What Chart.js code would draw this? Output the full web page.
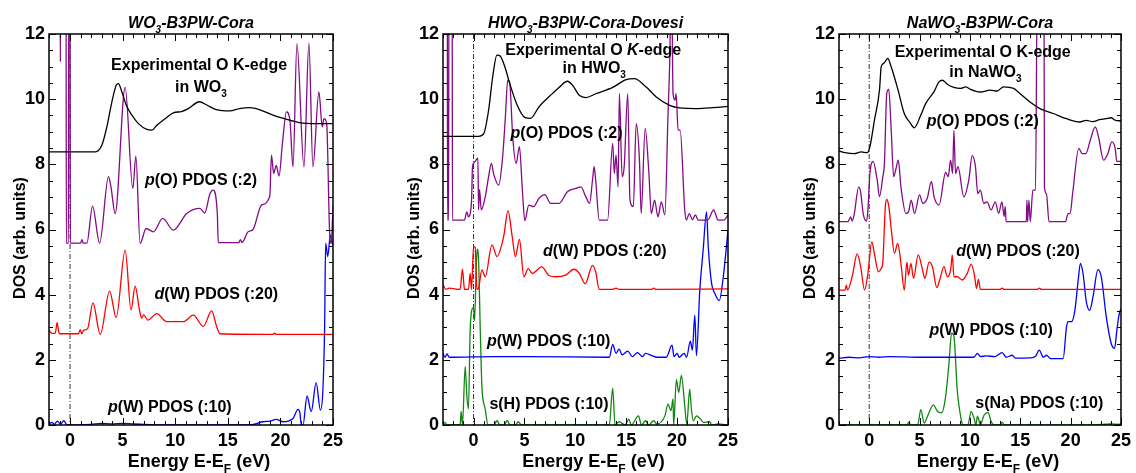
<!DOCTYPE html>
<html>
<head>
<meta charset="utf-8">
<script src="https://cdn.jsdelivr.net/npm/chart.js@4.4.1/dist/chart.umd.min.js"></script>
<style>
  html, body { margin: 0; padding: 0; background: #fff; }
  #wrap { position: relative; width: 1136px; height: 473px; overflow: hidden; }
  canvas { position: absolute; top: 0; }
</style>
</head>
<body>
<div id="wrap">
  <canvas id="c1" width="378" height="473" style="left:0px"></canvas>
  <canvas id="c2" width="376" height="473" style="left:380px"></canvas>
  <canvas id="c3" width="380" height="473" style="left:756px"></canvas>
</div>
<script>
// tick labels
const tickX = [0, 5, 10, 15, 20, 25];
const tickY = [0, 2, 4, 6, 8, 10, 12];

// ---- WO3 panel ----
const wo3ExpE = [-2, 2.4, 3.03, 3.5, 3.98, 4.39, 4.6, 4.93, 5.34, 5.88, 6.5, 7.3, 7.78, 8.25, 9.04, 9.82, 10.6, 11.2, 12.3, 13.0, 13.9, 15.2, 16.1, 17.1, 18.0, 19.3, 20.6, 21.8, 23.4, 25];
const wo3ExpV = [8.38, 8.38, 8.59, 9.15, 9.92, 10.43, 10.48, 10.22, 9.82, 9.51, 9.25, 9.07, 9.05, 9.2, 9.4, 9.58, 9.62, 9.7, 9.92, 9.82, 9.68, 9.64, 9.71, 9.74, 9.68, 9.51, 9.38, 9.28, 9.25, 9.25];

const wo3OpE = [-2, -0.95, -0.92, -0.89, -0.38, -0.35, -0.15, -0.12, 0.0, 0.03, 1.0, 1.13, 1.25, 1.6, 2.14, 2.81, 3.66, 3.88, 4.29, 5.24, 5.97, 6.26, 6.66, 7.23, 7.93, 8.81, 9.82, 11.09, 12.35, 12.8, 13.3, 13.6, 14.0, 14.09, 16.05, 16.2, 16.35, 16.93, 17.4, 18.2, 18.99, 19.15, 19.36, 19.6, 19.87, 20.19, 20.57, 20.9, 21.2, 21.57, 22.24, 22.71, 23.09, 23.66, 23.98, 24.14, 24.4, 24.67, 24.83, 25];
const wo3OpV = [14, 14, 11.15, 14, 14, 5.58, 5.58, 14, 14, 5.58, 5.58, 5.69, 5.58, 5.58, 6.72, 5.58, 7.62, 7.33, 6.49, 10.36, 7.26, 8.25, 5.57, 6.03, 5.93, 6.34, 5.98, 6.49, 6.65, 6.5, 7.1, 7.21, 6.5, 5.6, 5.6, 5.69, 5.6, 5.93, 6.0, 6.75, 7.03, 8.28, 7.72, 7.97, 7.64, 8.64, 9.61, 9.36, 7.92, 11.7, 7.92, 11.73, 7.92, 10.22, 9.15, 9.4, 9.25, 5.98, 5.57, 6.7];

const wo3DwE = [-2, -1.7, -1.4, -1.23, -1.05, -0.98, 0.8, 0.97, 1.1, 1.3, 1.67, 2.18, 2.87, 3.76, 4.39, 5.24, 5.8, 6.19, 6.6, 6.8, 7.0, 7.4, 8.25, 9.19, 10.77, 11.72, 12.67, 13.46, 13.93, 14.25, 19.3, 19.45, 19.6, 25];
const wo3DwV = [2.91, 2.81, 2.82, 3.14, 2.82, 2.8, 2.8, 2.93, 2.8, 2.91, 2.96, 3.75, 2.78, 4.11, 3.3, 5.37, 3.53, 4.26, 3.53, 3.28, 3.38, 3.22, 3.42, 3.17, 3.17, 3.37, 3.03, 3.5, 3.03, 2.8, 2.78, 2.82, 2.78, 2.78];

const wo3PwE = [-2, -1.7, -1.5, -1.2, -0.9, -0.6, -0.3, 0, 2, 3, 4, 5, 6, 7, 9, 17.0, 18.35, 19.0, 19.6, 20.25, 21.2, 21.67, 21.85, 21.99, 22.15, 22.53, 22.93, 23.4, 23.8, 24.2, 24.3, 24.5, 24.75, 25];
const wo3PwV = [0.02, 0.08, 0.02, 0.12, 0.03, 0.13, 0.01, 0.0, 0.02, 0.05, 0.03, 0.05, 0.03, 0.02, 0.0, 0.0, 0.1, 0.12, 0.17, 0.1, 0.2, 0.48, 0.38, 0.0, 0.0, 0.89, 0.41, 1.3, 0.46, 2.91, 5.58, 5.17, 5.83, 5.5];

// ---- HWO3 panel ----
const hwo3ExpE = [-3, 0.5, 1.0, 1.48, 1.88, 2.3, 2.6, 3.13, 3.46, 4.28, 5.04, 5.6, 6.42, 7.74, 8.4, 9.22, 9.72, 10.38, 11.04, 12.03, 13.67, 14.99, 15.8, 16.96, 17.95, 19.27, 20.26, 21.9, 23.55, 25];
const hwo3ExpV = [8.86, 8.86, 8.94, 9.66, 10.68, 11.35, 11.33, 10.94, 10.58, 9.82, 9.44, 9.41, 9.76, 10.17, 10.36, 10.55, 10.43, 10.12, 10.05, 10.17, 10.36, 10.6, 10.63, 10.37, 10.07, 9.81, 9.73, 9.71, 9.74, 9.78];

const hwo3OpE = [-3, -2.58, -2.55, -2.45, -2.42, -2.1, -2.07, -0.89, -0.66, -0.5, -0.2, -0.1, 0.0, 0.23, 0.43, 0.49, 0.59, 0.76, 1.15, 1.48, 1.75, 1.98, 2.47, 2.86, 3.13, 3.36, 3.56, 3.85, 4.18, 4.51, 4.78, 5.04, 5.43, 5.9, 6.42, 7.0, 7.57, 8.4, 9.22, 10.05, 10.54, 11.04, 11.4, 11.69, 11.85, 12.0, 12.35, 13.17, 13.67, 13.83, 14.0, 14.2, 14.33, 14.6, 14.8, 15.15, 15.37, 15.7, 15.98, 16.3, 16.47, 16.86, 17.23, 17.46, 17.79, 18.12, 18.45, 18.8, 19.1, 19.27, 19.45, 19.6, 19.8, 19.9, 20.1, 20.3, 20.75, 20.9, 21.2, 21.5, 21.8, 22.07, 23.0, 23.6, 23.8, 24.0, 24.6, 25];
const hwo3OpV = [14, 14, 6.29, 6.29, 14, 14, 6.29, 6.29, 6.54, 6.39, 6.85, 7.93, 8.03, 8.12, 8.2, 6.6, 7.23, 6.6, 7.0, 7.62, 8.03, 7.7, 7.36, 8.23, 9.46, 10.58, 10.48, 8.84, 8.03, 8.54, 7.31, 6.27, 6.75, 6.7, 6.95, 7.07, 6.8, 6.8, 7.16, 7.26, 7.31, 7.0, 6.8, 7.52, 7.93, 7.52, 6.29, 6.29, 8.64, 7.72, 8.28, 7.31, 10.17, 7.62, 7.93, 10.17, 6.9, 6.7, 9.25, 8.13, 6.49, 9.1, 7.72, 6.49, 6.9, 6.39, 6.85, 6.45, 9.46, 11.1, 14, 10.17, 9.97, 10.17, 9.05, 9.05, 6.6, 6.29, 6.49, 6.3, 6.45, 6.29, 6.29, 6.6, 6.45, 6.29, 6.29, 6.45];

const hwo3DwE = [-3, -2.7, -2.4, -1.32, -1.09, -0.89, -0.5, -0.33, -0.2, 0.0, 0.16, 0.33, 0.49, 0.82, 1.15, 1.81, 2.3, 2.96, 3.39, 3.79, 4.12, 4.51, 4.94, 5.37, 5.76, 6.69, 7.41, 8.07, 9.06, 9.88, 10.4, 10.97, 11.69, 12.0, 12.35, 13.6, 14.0, 14.3, 17.5, 17.7, 17.9, 25];
const hwo3DwV = [4.3, 4.16, 4.2, 4.16, 4.78, 4.16, 4.16, 4.65, 4.16, 5.47, 5.45, 4.16, 4.2, 4.76, 4.55, 5.53, 5.17, 5.78, 6.58, 5.8, 5.17, 5.7, 4.55, 4.8, 4.65, 4.85, 4.59, 4.55, 4.6, 4.78, 4.65, 4.34, 4.9, 4.7, 4.16, 4.16, 4.2, 4.16, 4.16, 4.2, 4.16, 4.18];

const hwo3PwE = [-3, -2.8, -2.6, -2.4, -2.2, 2, 5, 13.34, 13.67, 14.0, 14.3, 14.6, 15.15, 15.6, 16.1, 16.6, 16.9, 17.6, 18.0, 18.94, 19.5, 19.7, 20.0, 20.2, 20.7, 20.93, 21.3, 21.5, 21.74, 21.9, 22.23, 22.56, 22.89, 23.06, 23.39, 23.72, 24.14, 24.54, 25];
const hwo3PwV = [2.2, 2.08, 2.18, 2.08, 2.08, 2.1, 2.1, 2.08, 2.47, 2.2, 2.33, 2.15, 2.27, 2.1, 2.22, 2.1, 2.2, 2.12, 2.08, 2.08, 2.45, 2.1, 2.2, 2.08, 2.2, 2.08, 2.57, 2.3, 3.37, 2.13, 4.14, 5.37, 6.54, 5.47, 4.34, 4.03, 3.82, 4.55, 5.98];

const hwo3ShE = [-3, -2.8, -2.6, -1.32, -1.22, -1.09, -0.82, -0.66, -0.5, -0.33, -0.16, 0.0, 0.1, 0.26, 0.36, 0.49, 0.66, 0.82, 1.15, 1.42, 2.0, 2.3, 2.6, 3.0, 3.3, 3.6, 4.1, 4.4, 4.7, 13.34, 13.67, 13.9, 14.3, 14.9, 15.25, 15.5, 16.2, 16.5, 16.9, 17.2, 17.7, 18.0, 18.8, 19.1, 19.4, 19.6, 19.66, 19.93, 20.16, 20.42, 20.75, 20.95, 21.24, 21.4, 21.6, 21.9, 22.3, 22.6, 23.2, 23.4, 24.0, 25];
const hwo3ShV = [0, 0.08, 0, 0, 0.42, 0, 1.8, 0.9, 0.49, 2.92, 3.54, 3.6, 3.2, 4.78, 5.4, 5.09, 2.94, 1.2, 0.49, 0, 0, 0.13, 0, 0, 0.13, 0, 0, 0.1, 0, 0, 1.13, 0, 0.1, 0, 0.18, 0, 0.28, 0, 0.13, 0, 0.13, 0.03, 0.28, 0.64, 0.44, 0.8, 0, 1.39, 1.0, 1.52, 0.59, 0.03, 1.1, 0.5, 0.13, 0.28, 0.18, 0.08, 0.1, 0, 0.03, 0];

// ---- NaWO3 panel ----
const nawo3ExpE = [-3, -2.4, -1.5, -0.8, -0.2, 0.07, 0.52, 1.02, 1.19, 1.45, 1.68, 1.84, 2.17, 2.82, 3.48, 4.07, 4.47, 5.12, 5.62, 6.44, 6.93, 7.26, 7.75, 8.41, 9.07, 9.6, 10.06, 11.04, 12.03, 12.7, 13.34, 14.33, 14.99, 15.97, 16.95, 18.27, 19.58, 20.9, 21.56, 22.2, 22.87, 23.5, 24.02, 24.4, 25];
const nawo3ExpV = [8.41, 8.36, 8.33, 8.38, 8.36, 8.54, 9.36, 10.28, 11.0, 11.1, 11.2, 11.25, 11.0, 10.33, 9.56, 9.27, 9.12, 9.51, 9.87, 10.23, 10.53, 10.58, 10.46, 10.36, 10.33, 10.38, 10.3, 10.22, 10.28, 10.25, 10.38, 10.33, 10.17, 9.91, 9.71, 9.56, 9.4, 9.3, 9.35, 9.31, 9.37, 9.4, 9.43, 9.36, 9.33];

const nawo3OpE = [-3, -2.11, -1.84, -1.7, -1.5, -1.05, -0.85, -0.6, -0.27, -0.13, 0.07, 0.39, 0.79, 1.02, 1.35, 1.51, 1.74, 1.94, 2.17, 2.43, 2.66, 2.89, 3.15, 3.65, 3.9, 4.17, 4.5, 5.0, 5.32, 5.75, 6.18, 6.44, 6.93, 7.59, 7.85, 8.08, 8.28, 8.41, 8.57, 8.81, 9.4, 9.89, 10.22, 10.55, 10.78, 11.04, 11.37, 11.7, 12.1, 12.52, 12.85, 13.18, 13.4, 13.5, 13.6, 15.6, 15.66, 15.72, 15.86, 15.99, 16.25, 16.51, 16.7, 17.35, 17.4, 17.6, 17.85, 19.49, 19.75, 19.95, 20.2, 20.81, 21.14, 21.5, 21.95, 22.44, 22.77, 23.27, 23.7, 24.09, 24.42, 24.58, 25];
const nawo3OpV = [6.24, 6.24, 6.39, 6.26, 6.45, 7.3, 7.15, 6.49, 6.26, 6.6, 7.72, 8.09, 7.52, 7.01, 7.62, 8.03, 10.17, 10.3, 9.15, 7.62, 7.87, 8.13, 7.31, 6.49, 6.54, 6.9, 6.49, 7.06, 6.8, 6.95, 7.47, 7.0, 6.75, 7.75, 7.62, 8.13, 7.72, 9.04, 7.72, 7.93, 7.0, 7.52, 8.27, 7.93, 7.1, 7.21, 6.8, 6.85, 6.6, 6.85, 6.5, 6.85, 6.4, 6.7, 6.24, 6.24, 6.9, 6.24, 6.9, 6.24, 7.21, 7.21, 14, 14, 7.3, 7.1, 6.24, 6.24, 6.49, 6.49, 7.11, 8.49, 8.33, 8.33, 8.74, 9.15, 8.84, 8.13, 8.33, 8.69, 8.49, 8.09, 8.09];

const nawo3DwE = [-3, -2.4, -2.27, -2.15, -1.7, -1.19, -0.85, -0.46, -0.13, 0.26, 0.52, 0.92, 1.18, 1.35, 1.6, 1.75, 1.95, 2.2, 2.5, 2.83, 3.15, 3.48, 3.74, 3.9, 4.14, 4.4, 4.86, 5.29, 5.52, 5.95, 6.28, 6.71, 7.04, 7.43, 7.76, 8.09, 8.25, 8.41, 8.74, 9.24, 9.73, 10.12, 10.45, 10.65, 10.84, 11.04, 13.0, 13.2, 13.4, 16.7, 16.9, 17.1, 25];
const nawo3DwV = [4.14, 4.14, 4.29, 4.14, 4.55, 5.25, 4.86, 4.14, 4.65, 5.62, 5.25, 4.7, 4.8, 5.0, 6.7, 6.92, 6.7, 5.98, 5.27, 5.57, 4.96, 4.14, 5.0, 4.6, 4.96, 4.5, 5.22, 4.77, 4.5, 5.0, 4.85, 4.22, 4.5, 4.86, 4.55, 4.77, 5.22, 4.55, 4.55, 4.45, 4.65, 4.94, 4.6, 4.19, 4.47, 4.16, 4.16, 4.2, 4.16, 4.16, 4.2, 4.16, 4.16];

const nawo3PwE = [-3, -2, -1, 0, 1, 2, 5, 8, 10.4, 10.74, 11.04, 11.6, 12.5, 13.2, 13.6, 14.2, 14.5, 16.0, 16.5, 16.88, 17.3, 17.6, 18.0, 19.26, 19.59, 19.76, 20.09, 20.42, 20.75, 20.97, 21.23, 21.56, 21.89, 22.22, 22.71, 23.04, 23.54, 24.03, 24.36, 24.59, 24.8, 25];
const nawo3PwV = [2.05, 2.08, 2.06, 2.1, 2.08, 2.1, 2.08, 2.08, 2.08, 2.2, 2.1, 2.12, 2.1, 2.22, 2.08, 2.14, 2.05, 2.06, 2.1, 2.3, 2.08, 2.14, 2.04, 2.04, 3.01, 3.17, 3.17, 3.52, 4.44, 4.96, 4.65, 3.78, 3.52, 3.93, 4.77, 4.55, 3.32, 2.5, 2.35, 2.91, 3.37, 3.57];

const nawo3SnaE = [-3, 3.74, 3.9, 4.14, 4.8, 5.13, 5.46, 5.79, 6.37, 6.77, 7.17, 7.59, 7.92, 8.18, 8.41, 8.74, 9.14, 9.33, 9.8, 10.12, 10.45, 10.6, 10.74, 11.04, 11.4, 11.79, 12.12, 12.39, 13.0, 13.2, 13.4, 22.2, 24.0, 24.83, 25];
const nawo3SnaV = [0, 0, 0.08, 0, 0, 0.47, 0.06, 0.27, 0.62, 0.42, 0.37, 0.88, 1.9, 2.82, 2.72, 1.08, 0.16, 0, 0, 0.42, 0.16, 0, 0.27, 0.02, 0.3, 0.39, 0.1, 0, 0, 0.09, 0, 0, 0.03, 0.02, 0.06];

const FONT = '"Liberation Sans", Arial, Helvetica, sans-serif';
const BLACK = '#000000', PURPLE = '#850a85', RED = '#ff0000', BLUE = '#0000ff', GREEN = '#118811';

function fontFor(seg, size, italicAll) {
  const it = (seg.it || italicAll) ? 'italic ' : '';
  const sz = seg.sub ? Math.round(size * 0.65) : size;
  return it + 'bold ' + sz + 'px ' + FONT;
}

// draws text made of segments: {t, it, sub}
function drawRich(ctx, segs, cx, y, size, italicAll) {
  let w = 0;
  segs.forEach(s => { ctx.font = fontFor(s, size, italicAll); w += ctx.measureText(s.t).width; });
  let x = cx - w / 2;
  ctx.textAlign = 'left';
  ctx.textBaseline = 'alphabetic';
  segs.forEach(s => {
    ctx.font = fontFor(s, size, italicAll);
    ctx.fillText(s.t, x, y + (s.sub ? size * 0.32 : 0));
    x += ctx.measureText(s.t).width;
  });
}

const decoPlugin = {
  id: 'deco',
  beforeDatasetsDraw(chart) {
    const ctx = chart.ctx, a = chart.chartArea, xs = chart.scales.x;
    const x0 = xs.getPixelForValue(0);
    ctx.save();
    ctx.strokeStyle = '#000';
    ctx.lineWidth = 0.8;
    ctx.setLineDash([5, 2, 1, 2]);
    ctx.beginPath();
    ctx.moveTo(x0, a.top);
    ctx.lineTo(x0, a.bottom);
    ctx.stroke();
    ctx.restore();
  },
  afterDraw(chart) {
    const ctx = chart.ctx, a = chart.chartArea;
    const xs = chart.scales.x, ys = chart.scales.y;
    const cfg = chart.options.plugins.deco;
    ctx.save();
    ctx.strokeStyle = '#000';
    ctx.lineWidth = 1.5;
    ctx.strokeRect(a.left, a.top, a.right - a.left, a.bottom - a.top);

    // inward ticks
    ctx.lineWidth = 1;
    ctx.beginPath();
    for (let v = 0; v <= 12; v += 0.5) {
      const y = Math.round(ys.getPixelForValue(v)) + 0.5;
      const len = v % 2 === 0 ? 7 : 4;
      ctx.moveTo(a.left, y); ctx.lineTo(a.left + len, y);
      ctx.moveTo(a.right, y); ctx.lineTo(a.right - len, y);
    }
    for (let e = Math.ceil(xs.min); e <= 25; e++) {
      const x = Math.round(xs.getPixelForValue(e)) + 0.5;
      const len = e % 5 === 0 ? 7 : 4;
      ctx.moveTo(x, a.bottom); ctx.lineTo(x, a.bottom - len);
      ctx.moveTo(x, a.top); ctx.lineTo(x, a.top + len);
    }
    ctx.stroke();

    ctx.fillStyle = '#000';
    const cx = (a.left + a.right) / 2;
    // panel title
    drawRich(ctx, cfg.title, cx, 28, 16, true);
    // axis titles
    drawRich(ctx, [{t: 'Energy E-E'}, {t: 'F', sub: true}, {t: ' (eV)'}], cx + 8, 467, 18, false);
    ctx.save();
    ctx.translate(a.left - 30, 238);
    ctx.rotate(-Math.PI / 2);
    drawRich(ctx, [{t: 'DOS (arb. units)'}], 0, 6, 16, false);
    ctx.restore();
    // curve labels
    cfg.labels.forEach(l => {
      drawRich(ctx, l.segs, xs.getPixelForValue(l.e), ys.getPixelForValue(l.v), 16, false);
    });
    ctx.restore();
  }
};

function buildPanel(id, p) {
  const datasets = p.series.map(s => ({
    data: s.e.map((e, i) => ({x: e, y: s.v[i]})),
    borderColor: s.color,
    borderWidth: 1.3,
    pointRadius: 0,
    fill: false,
    cubicInterpolationMode: 'monotone'
  }));
  const tickFont = {family: FONT, size: 18, weight: 'bold'};
  return new Chart(document.getElementById(id), {
    type: 'line',
    data: {datasets: datasets},
    options: {
      responsive: false,
      animation: false,
      devicePixelRatio: 1,
      layout: {padding: {left: 0, right: p.padRight, top: 34, bottom: 0}},
      plugins: {
        legend: {display: false},
        tooltip: {enabled: false},
        deco: {title: p.title, labels: p.labels}
      },
      scales: {
        x: {
          type: 'linear', min: p.xMin, max: 25,
          grid: {display: false, drawTicks: false},
          border: {display: false},
          ticks: {color: '#000', font: tickFont, padding: 5, maxRotation: 0, autoSkip: false},
          afterBuildTicks: s => { s.ticks = tickX.map(v => ({value: v})); },
          afterFit: s => { s.height = 48; }
        },
        y: {
          type: 'linear', min: 0, max: 12,
          grid: {display: false, drawTicks: false},
          border: {display: false},
          ticks: {color: '#000', font: tickFont, padding: 4, autoSkip: false},
          afterBuildTicks: s => { s.ticks = tickY.map(v => ({value: v})); },
          afterFit: s => { s.width = p.axisW; }
        }
      }
    },
    plugins: [decoPlugin]
  });
}

buildPanel('c1', {
  xMin: -2, axisW: 49, padRight: 45,
  title: [{t: 'WO'}, {t: '3', sub: true}, {t: '-B3PW-Cora'}],
  series: [
    {e: wo3ExpE, v: wo3ExpV, color: BLACK},
    {e: wo3OpE, v: wo3OpV, color: PURPLE},
    {e: wo3DwE, v: wo3DwV, color: RED},
    {e: wo3PwE, v: wo3PwV, color: BLUE}
  ],
  labels: [
    {segs: [{t: 'Experimental O K-edge'}], e: 12.27, v: 10.89},
    {segs: [{t: 'in WO'}, {t: '3', sub: true}], e: 12.45, v: 10.22},
    {segs: [{t: 'p', it: true}, {t: '(O) PDOS (:2)'}], e: 12.45, v: 7.36},
    {segs: [{t: 'd', it: true}, {t: '(W) PDOS (:20)'}], e: 13.91, v: 3.87},
    {segs: [{t: 'p', it: true}, {t: '(W) PDOS (:10)'}], e: 9.49, v: 0.41}
  ]
});

buildPanel('c2', {
  xMin: -3, axisW: 63, padRight: 28,
  title: [{t: 'HWO'}, {t: '3', sub: true}, {t: '-B3PW-Cora-Dovesi'}],
  series: [
    {e: hwo3ExpE, v: hwo3ExpV, color: BLACK},
    {e: hwo3OpE, v: hwo3OpV, color: PURPLE},
    {e: hwo3DwE, v: hwo3DwV, color: RED},
    {e: hwo3PwE, v: hwo3PwV, color: BLUE},
    {e: hwo3ShE, v: hwo3ShV, color: GREEN}
  ],
  labels: [
    {segs: [{t: 'Experimental O '}, {t: 'K', it: true}, {t: '-edge'}], e: 11.76, v: 11.35},
    {segs: [{t: 'in HWO'}, {t: '3', sub: true}], e: 11.86, v: 10.81},
    {segs: [{t: 'p', it: true}, {t: '(O) PDOS (:2)'}], e: 9.14, v: 8.8},
    {segs: [{t: 'd', it: true}, {t: '(W) PDOS (:20)'}], e: 12.9, v: 5.18},
    {segs: [{t: 'p', it: true}, {t: '(W) PDOS (:10)'}], e: 7.38, v: 2.42},
    {segs: [{t: 's(H) PDOS (:10)'}], e: 7.41, v: 0.49}
  ]
});

buildPanel('c3', {
  xMin: -3, axisW: 83, padRight: 12,
  title: [{t: 'NaWO'}, {t: '3', sub: true}, {t: '-B3PW-Cora'}],
  series: [
    {e: nawo3ExpE, v: nawo3ExpV, color: BLACK},
    {e: nawo3OpE, v: nawo3OpV, color: PURPLE},
    {e: nawo3DwE, v: nawo3DwV, color: RED},
    {e: nawo3PwE, v: nawo3PwV, color: BLUE},
    {e: nawo3SnaE, v: nawo3SnaV, color: GREEN}
  ],
  labels: [
    {segs: [{t: 'Experimental O K-edge'}], e: 11.27, v: 11.28},
    {segs: [{t: 'in NaWO'}, {t: '3', sub: true}], e: 11.54, v: 10.67},
    {segs: [{t: 'p', it: true}, {t: '(O) PDOS (:2)'}], e: 11.27, v: 9.17},
    {segs: [{t: 'd', it: true}, {t: '(W) PDOS (:20)'}], e: 14.77, v: 5.18},
    {segs: [{t: 'p', it: true}, {t: '(W) PDOS (:10)'}], e: 12.11, v: 2.76},
    {segs: [{t: 's(Na) PDOS (:10)'}], e: 16.89, v: 0.52}
  ]
});
</script>
</body>
</html>
